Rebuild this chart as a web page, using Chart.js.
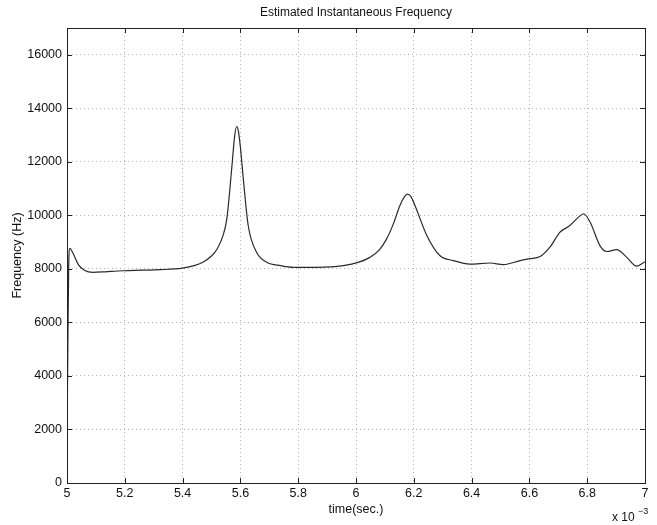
<!DOCTYPE html>
<html>
<head>
<meta charset="utf-8">
<script src="https://cdn.jsdelivr.net/npm/chart.js@4/dist/chart.umd.min.js"></script>
<style>
    html, body { margin: 0; padding: 0; background: #fff; }
    #wrap { width: 657px; height: 525px; }
</style>
</head>
<body>
<div id="wrap"><canvas id="freq-canvas" width="657" height="525"></canvas></div>
<script>
/* Estimated instantaneous frequency — time in ms (x 10^-3 s) */

const timeMs = [
    5.000, 5.003, 5.006, 5.010, 5.020, 5.040, 5.060, 5.090, 5.140, 5.195,
    5.260, 5.322, 5.400, 5.440, 5.470, 5.500, 5.520, 5.540, 5.553, 5.570,
    5.580, 5.587, 5.593, 5.600, 5.610, 5.627, 5.656, 5.691, 5.740, 5.783,
    5.864, 5.956, 6.010, 6.048, 6.080, 6.106, 6.130, 6.152, 6.168, 6.178,
    6.190, 6.204, 6.245, 6.290, 6.337, 6.394, 6.464, 6.510, 6.568, 6.600,
    6.637, 6.671, 6.706, 6.740, 6.775, 6.788, 6.810, 6.844, 6.868, 6.902,
    6.937, 6.971, 7.000
];
const freqHz = [
    1500, 5200, 8200, 8770, 8600, 8150, 7950, 7870, 7900, 7930,
    7950, 7970, 8030, 8120, 8250, 8480, 8750, 9250, 9870, 11750,
    12950, 13320, 13150, 12550, 11370, 9620, 8620, 8250, 8120, 8060,
    8060, 8120, 8250, 8430, 8700, 9120, 9700, 10370, 10700, 10790,
    10700, 10370, 9250, 8500, 8310, 8180, 8220, 8160, 8310, 8380,
    8460, 8810, 9370, 9620, 9980, 10060, 9750, 8870, 8650, 8720,
    8430, 8100, 8270
];
const xTicks = [5, 5.2, 5.4, 5.6, 5.8, 6, 6.2, 6.4, 6.6, 6.8, 7];
const yTicks = [0, 2000, 4000, 6000, 8000, 10000, 12000, 14000, 16000];

const FONT = 'Liberation Sans, Arial, Helvetica, sans-serif';
const INK = '#222';

/* ── Frame, inward ticks and exponent label ─────────────────── */

const matlabFrame = {
    id: 'matlabFrame',
    afterDraw(chart) {
        const { ctx, chartArea: a, scales } = chart;
        ctx.save();
        ctx.strokeStyle = INK;
        ctx.lineWidth = 1;
        ctx.strokeRect(a.left + 0.5, a.top + 0.5, a.right - a.left, a.bottom - a.top);

        ctx.beginPath();
        scales.x.ticks.forEach(t => {
            const px = Math.round(scales.x.getPixelForValue(t.value)) + 0.5;
            ctx.moveTo(px, a.bottom); ctx.lineTo(px, a.bottom - 5);
            ctx.moveTo(px, a.top); ctx.lineTo(px, a.top + 5);
        });
        scales.y.ticks.forEach(t => {
            const py = Math.round(scales.y.getPixelForValue(t.value)) + 0.5;
            ctx.moveTo(a.left, py); ctx.lineTo(a.left + 5, py);
            ctx.moveTo(a.right, py); ctx.lineTo(a.right - 5, py);
        });
        ctx.stroke();

        ctx.fillStyle = '#111';
        ctx.textBaseline = 'alphabetic';
        ctx.font = '12px ' + FONT;
        ctx.fillText('x 10', 612, 521);
        ctx.font = '9px ' + FONT;
        ctx.fillText('\u22123', 638, 514);
        ctx.restore();
    }
};

function fmtTick(v) {
    return String(Number(v.toFixed(1)));
}

new Chart(document.getElementById('freq-canvas').getContext('2d'), {
    type: 'line',
    data: {
        datasets: [{
            label: 'Frequency',
            data: timeMs.map((t, i) => ({ x: t, y: freqHz[i] })),
            borderColor: '#2a2a2a',
            borderWidth: 1.2,
            pointRadius: 0,
            fill: false,
            cubicInterpolationMode: 'monotone',
        }]
    },
    options: {
        responsive: false,
        animation: false,
        layout: { padding: { top: 0, right: 12, left: 0, bottom: 0 } },
        plugins: {
            legend: { display: false },
            tooltip: { enabled: false },
            title: {
                display: true,
                text: 'Estimated Instantaneous Frequency',
                fullSize: false,
                color: '#111',
                font: { family: FONT, size: 12, weight: 'normal' },
                padding: { top: 5, bottom: 8.6 },
            },
        },
        scales: {
            x: {
                type: 'linear',
                min: 5, max: 7,
                afterBuildTicks: s => { s.ticks = xTicks.map(v => ({ value: v })); },
                afterFit: s => { s.height = 42; },
                ticks: {
                    color: '#111',
                    font: { family: FONT, size: 12.5 },
                    padding: 3,
                    maxRotation: 0,
                    callback: v => fmtTick(v),
                },
                grid: { color: '#b5b5b5', drawTicks: false, lineWidth: 1 },
                border: { color: INK, dash: [1, 3] },
                title: {
                    display: true,
                    text: 'time(sec.)',
                    color: '#111',
                    font: { family: FONT, size: 12.5 },
                    padding: { top: 0, bottom: 7.5 },
                },
            },
            y: {
                type: 'linear',
                min: 0, max: 17000,
                afterBuildTicks: s => { s.ticks = yTicks.map(v => ({ value: v })); },
                afterFit: s => { s.width = 67; },
                ticks: {
                    color: '#111',
                    font: { family: FONT, size: 12.5 },
                    padding: 5,
                    callback: v => String(v),
                },
                grid: { color: '#b5b5b5', drawTicks: false, lineWidth: 1 },
                border: { color: INK, dash: [1, 3] },
                title: {
                    display: true,
                    text: 'Frequency (Hz)',
                    color: '#111',
                    font: { family: FONT, size: 12.5 },
                    padding: { top: 10, bottom: 0 },
                },
            },
        },
    },
    plugins: [matlabFrame],
});
</script>
</body>
</html>
